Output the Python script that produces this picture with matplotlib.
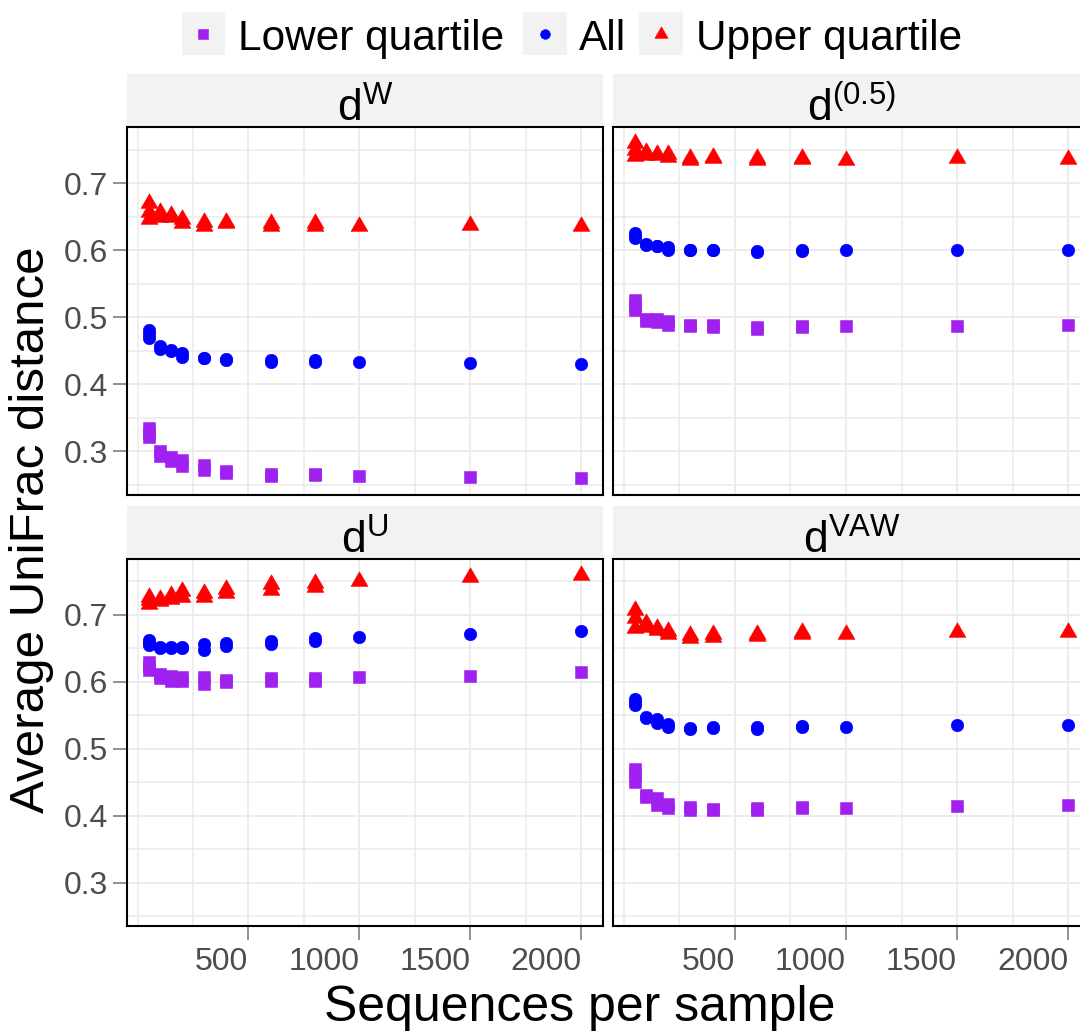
import matplotlib
matplotlib.use('Agg')
import matplotlib.pyplot as plt
from matplotlib.patches import Rectangle
from matplotlib.lines import Line2D
from matplotlib.path import Path

plt.rcParams['font.family'] = ['Liberation Sans', 'DejaVu Sans']
plt.rcParams['mathtext.fontset'] = 'custom'
plt.rcParams['mathtext.rm'] = 'Liberation Sans'
plt.rcParams['mathtext.it'] = 'Liberation Sans'
plt.rcParams['mathtext.bf'] = 'Liberation Sans:bold'

# ---------------- data ----------------
series_labels = ['Lower quartile', 'All', 'Upper quartile']
series_colors = ['#A020F0', '#0000FF', '#FF0000']
panel_titles = [r'$\mathrm{d}^{\mathrm{W}}$', r'$\mathrm{d}^{(0.5)}$',
                r'$\mathrm{d}^{\mathrm{U}}$', r'$\mathrm{d}^{\mathrm{VAW}}$']

seqs = [50, 50, 50, 100, 100, 150, 150, 200, 200, 300, 300, 400, 400,
        600, 600, 800, 800, 1000, 1500, 2000]

dW_lower = [0.335, 0.328, 0.322, 0.300, 0.293, 0.291, 0.286, 0.287, 0.278, 0.280, 0.272,
            0.271, 0.268, 0.266, 0.264, 0.267, 0.265, 0.264, 0.262, 0.261]
dW_all = [0.481, 0.475, 0.469, 0.458, 0.453, 0.451, 0.450, 0.447, 0.441, 0.440, 0.439,
          0.438, 0.437, 0.437, 0.434, 0.437, 0.433, 0.433, 0.432, 0.430]
dW_upper = [0.670, 0.657, 0.647, 0.657, 0.650, 0.652, 0.650, 0.646, 0.640, 0.642, 0.637,
            0.642, 0.641, 0.641, 0.637, 0.640, 0.637, 0.636, 0.638, 0.636]

d05_lower = [0.526, 0.518, 0.511, 0.498, 0.495, 0.497, 0.493, 0.494, 0.488, 0.489, 0.487,
             0.488, 0.486, 0.485, 0.483, 0.487, 0.485, 0.487, 0.487, 0.488]
d05_all = [0.626, 0.622, 0.618, 0.610, 0.608, 0.607, 0.606, 0.605, 0.601, 0.601, 0.600,
           0.601, 0.600, 0.599, 0.597, 0.600, 0.599, 0.600, 0.601, 0.600]
d05_upper = [0.760, 0.750, 0.741, 0.746, 0.742, 0.744, 0.742, 0.743, 0.739, 0.737, 0.734,
             0.739, 0.737, 0.737, 0.734, 0.738, 0.736, 0.735, 0.737, 0.736]

dU_lower = [0.630, 0.624, 0.618, 0.612, 0.605, 0.609, 0.601, 0.607, 0.601, 0.607, 0.597,
            0.603, 0.599, 0.606, 0.601, 0.606, 0.601, 0.607, 0.609, 0.615]
dU_all = [0.662, 0.658, 0.655, 0.652, 0.650, 0.652, 0.651, 0.652, 0.651, 0.657, 0.647,
          0.658, 0.654, 0.661, 0.657, 0.665, 0.661, 0.667, 0.672, 0.676]
dU_upper = [0.727, 0.722, 0.716, 0.724, 0.720, 0.729, 0.724, 0.735, 0.726, 0.733, 0.727,
            0.738, 0.733, 0.746, 0.737, 0.747, 0.742, 0.750, 0.756, 0.760]

dVAW_lower = [0.470, 0.460, 0.450, 0.431, 0.428, 0.427, 0.416, 0.418, 0.411, 0.413, 0.409,
              0.410, 0.408, 0.411, 0.408, 0.413, 0.411, 0.412, 0.414, 0.416]
dVAW_all = [0.575, 0.570, 0.565, 0.548, 0.546, 0.544, 0.539, 0.537, 0.533, 0.531, 0.530,
            0.533, 0.531, 0.533, 0.529, 0.534, 0.533, 0.533, 0.535, 0.535]
dVAW_upper = [0.708, 0.695, 0.680, 0.688, 0.682, 0.680, 0.677, 0.676, 0.671, 0.670, 0.665,
              0.672, 0.667, 0.671, 0.669, 0.674, 0.672, 0.672, 0.675, 0.674]

panel_data = [
    (dW_lower, dW_all, dW_upper),
    (d05_lower, d05_all, d05_upper),
    (dU_lower, dU_all, dU_upper),
    (dVAW_lower, dVAW_all, dVAW_upper),
]

x_major = [500, 1000, 1500, 2000]
x_minor = [0, 250, 750, 1250, 1750]
y_major = [0.3, 0.4, 0.5, 0.6, 0.7]
y_minor = [0.25, 0.35, 0.45, 0.55, 0.65, 0.75]

# ---------------- layout ----------------
W, H = 1080, 1036
fig = plt.figure(figsize=(W / 100, H / 100), dpi=100)


def fx(px):
    return px / W


def fy(py):
    return 1 - py / H


col_lr = [(127, 603), (613.3, 1089.8)]
row_tb = [(127.3, 495), (559, 926)]
strip_h = 53

# equilateral triangle like R pch 17 (centred on centroid)
tri = Path([(0, 1.555), (1.347, -0.778), (-1.347, -0.778), (0, 1.555)],
           [Path.MOVETO, Path.LINETO, Path.LINETO, Path.CLOSEPOLY])
markers = ['s', 'o', tri]
msizes = [8.4, 9.0, 14.0]

for i in range(4):
    r, c = divmod(i, 2)
    l, rr = col_lr[c]
    t, b = row_tb[r]
    ax = fig.add_axes([fx(l), fy(b), (rr - l) / W, (b - t) / H])
    ax.set_xlim(-47.5, 2097.5)
    ax.set_ylim(0.235, 0.7835)
    ax.set_xticks(x_major)
    ax.set_xticks(x_minor, minor=True)
    ax.set_yticks(y_major)
    ax.set_yticks(y_minor, minor=True)
    ax.grid(True, which='major', color='#EBEBEB', lw=1.3)
    ax.grid(True, which='minor', color='#EBEBEB', lw=1.1)
    ax.set_axisbelow(True)
    for sp in ax.spines.values():
        sp.set_color('black')
        sp.set_linewidth(1.5)
    ax.tick_params(which='minor', length=0)
    ax.tick_params(which='major', length=10, width=1.2, color='#7F7F7F',
                   labelsize=23, labelcolor='#4D4D4D')
    ax.tick_params(axis='y', pad=3.5)
    ax.tick_params(axis='x', pad=5)
    if c == 1:
        ax.tick_params(axis='y', left=False, labelleft=False)
    else:
        ax.set_yticklabels(['%.1f' % v for v in y_major])
    if r == 0:
        ax.tick_params(axis='x', bottom=False, labelbottom=False)
    else:
        ax.set_xticklabels([str(v) for v in x_major])
        for lab in ax.get_xticklabels():
            lab.set_ha('right')

    for k in range(3):
        ax.plot(seqs, panel_data[i][k], linestyle='none', marker=markers[k],
                markersize=msizes[k], color=series_colors[k],
                markeredgewidth=0.4, clip_on=False, zorder=3 + k)

    sf = strip_h / (b - t)
    ax.add_patch(Rectangle((0, 1.0), 1, sf, transform=ax.transAxes,
                           facecolor='#F2F2F2', edgecolor='none', clip_on=False,
                           zorder=0))
    ax.text(0.5, 1 + 5.5 / (b - t), panel_titles[i], transform=ax.transAxes,
            ha='center', va='baseline', fontsize=32, color='black')

# axis titles
fig.text(fx(580), fy(1021), 'Sequences per sample', ha='center', va='baseline',
         fontsize=36, color='black')
fig.text(fx(44), fy(530), 'Average UniFrac distance', ha='center', va='baseline',
         rotation=90, rotation_mode='anchor', fontsize=35.5, color='black')

# legend (manual, ggplot style keys)
key_left = [181.7, 523, 639]
text_left = [238.5, 578.5, 696]
leg_msizes = [7.5, 7.0, 11.0]
for k in range(3):
    fig.add_artist(Rectangle((fx(key_left[k]), fy(55)), 43.5 / W, 43 / H,
                             transform=fig.transFigure, facecolor='#F2F2F2',
                             edgecolor='none'))
    fig.add_artist(Line2D([fx(key_left[k] + 21.75)], [fy(33.5)],
                          transform=fig.transFigure, linestyle='none',
                          marker=markers[k], markersize=leg_msizes[k],
                          color=series_colors[k], markeredgewidth=0.4))
    fig.text(fx(text_left[k]), fy(50), series_labels[k], ha='left', va='baseline',
             fontsize=30.5, color='black')

fig.savefig('out.png', dpi=100, facecolor='white')
